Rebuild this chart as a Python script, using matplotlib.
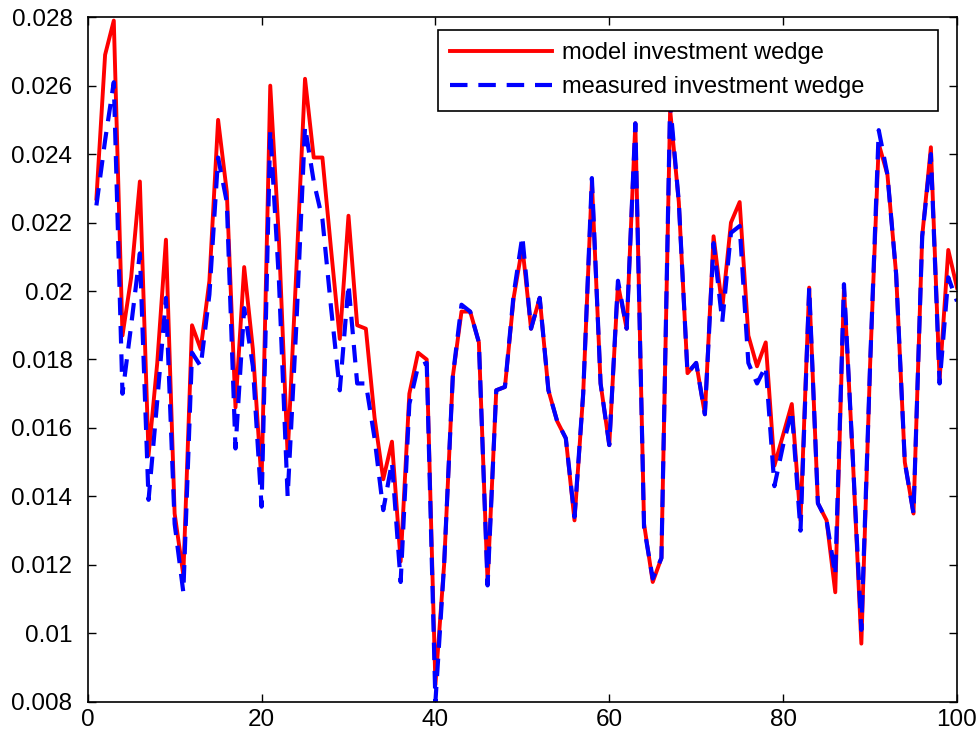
import matplotlib
matplotlib.use("Agg")
import matplotlib.pyplot as plt
import numpy as np
from matplotlib.ticker import FormatStrFormatter

plt.rcParams['font.family'] = ['Liberation Sans', 'DejaVu Sans']

periods = np.arange(1, 101)

model_wedge = [
    0.0227, 0.0269, 0.0279, 0.0187, 0.0204, 0.0232, 0.0152, 0.0179, 0.0215, 0.0135,
    0.0117, 0.0190, 0.0183, 0.0203, 0.0250, 0.0229, 0.0166, 0.0207, 0.0183, 0.0144,
    0.0260, 0.0215, 0.0152, 0.0206, 0.0262, 0.0239, 0.0239, 0.0212, 0.0186, 0.0222,
    0.0190, 0.0189, 0.0163, 0.0145, 0.0156, 0.0121, 0.0170, 0.0182, 0.0180, 0.0085,
    0.0120, 0.0175, 0.0194, 0.0194, 0.0185, 0.0115, 0.0171, 0.0172, 0.0198, 0.0213,
    0.0189, 0.0198, 0.0171, 0.0162, 0.0157, 0.0133, 0.0170, 0.0232, 0.0173, 0.0155,
    0.0202, 0.0189, 0.0249, 0.0132, 0.0115, 0.0122, 0.0253, 0.0226, 0.0176, 0.0179,
    0.0164, 0.0216, 0.0195, 0.0220, 0.0226, 0.0187, 0.0178, 0.0185, 0.0149, 0.0158,
    0.0167, 0.0133, 0.0201, 0.0138, 0.0133, 0.0112, 0.0201, 0.0152, 0.0097, 0.0178,
    0.0243, 0.0234, 0.0205, 0.0150, 0.0135, 0.0216, 0.0242, 0.0174, 0.0212, 0.0201,
]

measured_wedge = [
    0.0225, 0.0244, 0.0261, 0.0170, 0.0190, 0.0211, 0.0139, 0.0168, 0.0198, 0.0132,
    0.0112, 0.0182, 0.0178, 0.0199, 0.0239, 0.0226, 0.0154, 0.0195, 0.0178, 0.0137,
    0.0247, 0.0203, 0.0140, 0.0190, 0.0248, 0.0232, 0.0221, 0.0195, 0.0171, 0.0202,
    0.0173, 0.0173, 0.0157, 0.0136, 0.0150, 0.0115, 0.0167, 0.0178, 0.0179, 0.0080,
    0.0120, 0.0175, 0.0196, 0.0194, 0.0185, 0.0114, 0.0171, 0.0172, 0.0199, 0.0216,
    0.0189, 0.0198, 0.0171, 0.0162, 0.0157, 0.0134, 0.0170, 0.0233, 0.0173, 0.0155,
    0.0203, 0.0189, 0.0249, 0.0131, 0.0116, 0.0122, 0.0255, 0.0226, 0.0176, 0.0179,
    0.0164, 0.0214, 0.0191, 0.0217, 0.0219, 0.0179, 0.0173, 0.0178, 0.0143, 0.0155,
    0.0165, 0.0130, 0.0201, 0.0138, 0.0133, 0.0117, 0.0202, 0.0152, 0.0101, 0.0178,
    0.0247, 0.0234, 0.0205, 0.0150, 0.0135, 0.0216, 0.0240, 0.0173, 0.0204, 0.0197,
]

x_ticks = [0, 20, 40, 60, 80, 100]
y_ticks = [0.008, 0.01, 0.012, 0.014, 0.016, 0.018, 0.02, 0.022, 0.024, 0.026, 0.028]

fig = plt.figure(figsize=(9.8, 7.47), dpi=100)
ax = fig.add_axes([0.0895, 0.0605, 0.8870, 0.9165])

ax.plot(periods, model_wedge, color='#ff0000', lw=2.8, label='model investment wedge')
ax.plot(periods, measured_wedge, color='#0000ff', lw=3.0, linestyle=(0, (4.2, 2.6)),
        label='measured investment wedge')

ax.set_xlim(0, 100)
ax.set_ylim(0.008, 0.028)
ax.set_xticks(x_ticks)
ax.set_yticks(y_ticks)
ax.yaxis.set_major_formatter(FormatStrFormatter('%g'))
ax.tick_params(direction='in', length=6, width=1, top=True, right=True, labelsize=17.5)
ax.tick_params(axis='y', pad=11)
ax.tick_params(axis='x', pad=5)
for s in ax.spines.values():
    s.set_linewidth(1.2)

# legend box stretched like the original (extra room on the right)
leg = ax.legend(loc='upper left', fontsize=17, handlelength=4.3, handletextpad=0.42,
                borderpad=0.52, labelspacing=0.5, fancybox=False, framealpha=1,
                edgecolor='black', mode='expand', borderaxespad=0,
                bbox_to_anchor=(0.403, 0.981, 0.575, 0.0))
leg.get_frame().set_linewidth(1.2)

fig.savefig('out.png', dpi=100)
